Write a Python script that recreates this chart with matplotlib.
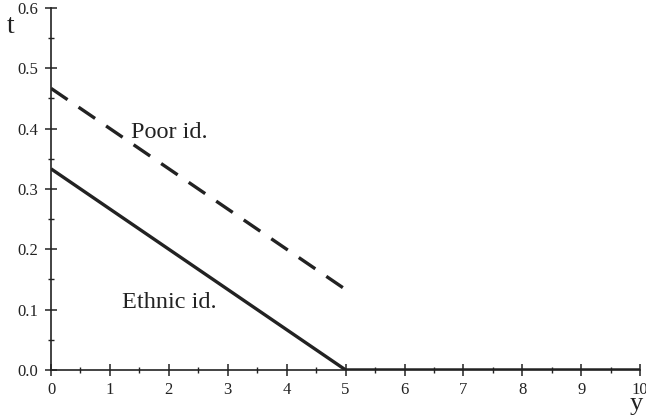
import matplotlib
matplotlib.use("Agg")
import matplotlib.pyplot as plt
from matplotlib.ticker import MultipleLocator, FormatStrFormatter

# Tax rate t as a function of income y under two identity regimes
ethnic_y = [0, 5, 10]
ethnic_t = [1/3, 0.0, 0.0]
poor_y = [0, 5]
poor_t = [0.4667, 0.1333]

x_ticks = list(range(0, 11))
y_ticks = [0.0, 0.1, 0.2, 0.3, 0.4, 0.5, 0.6]

plt.rcParams['font.family'] = ['Liberation Serif', 'DejaVu Serif']

fig = plt.figure(figsize=(6.46, 4.18), dpi=100)
ax = fig.add_axes([0.079, 0.115, 0.912, 0.866])

ax.plot(ethnic_y, ethnic_t, color='#222222', lw=2.4, solid_capstyle='butt', zorder=3)
ax.plot(poor_y, poor_t, color='#222222', lw=2.4, dashes=(6, 4), zorder=3)

ax.set_xlim(0, 10)
ax.set_ylim(0, 0.6)
for s in ('top', 'right'):
    ax.spines[s].set_visible(False)
for s in ('left', 'bottom'):
    ax.spines[s].set_linewidth(1.2)
    ax.spines[s].set_color('#222222')

ax.set_xticks(x_ticks)
ax.set_yticks(y_ticks)
ax.xaxis.set_minor_locator(MultipleLocator(0.5))
ax.yaxis.set_minor_locator(MultipleLocator(0.05))
ax.yaxis.set_major_formatter(FormatStrFormatter('%.1f'))
ax.tick_params(which='major', direction='inout', length=9, width=1.1, labelsize=12, colors='#222222')
ax.tick_params(axis='x', which='major', pad=4)
ax.tick_params(axis='y', which='major', pad=5)
ax.tick_params(which='minor', direction='inout', length=5, width=1.0, colors='#222222')

ax.text(1.35, 0.393, 'Poor id.', fontsize=17.5, va='center', ha='left', color='#222222')
ax.text(1.2, 0.111, 'Ethnic id.', fontsize=17.5, va='center', ha='left', color='#222222')

ax.text(-0.75, 0.57, 't', fontsize=20, va='center', ha='left', color='#222222', clip_on=False)
ax.text(9.82, -0.057, 'y', fontsize=19, va='center', ha='left', color='#222222', clip_on=False)

fig.savefig('out.png', dpi=100)
